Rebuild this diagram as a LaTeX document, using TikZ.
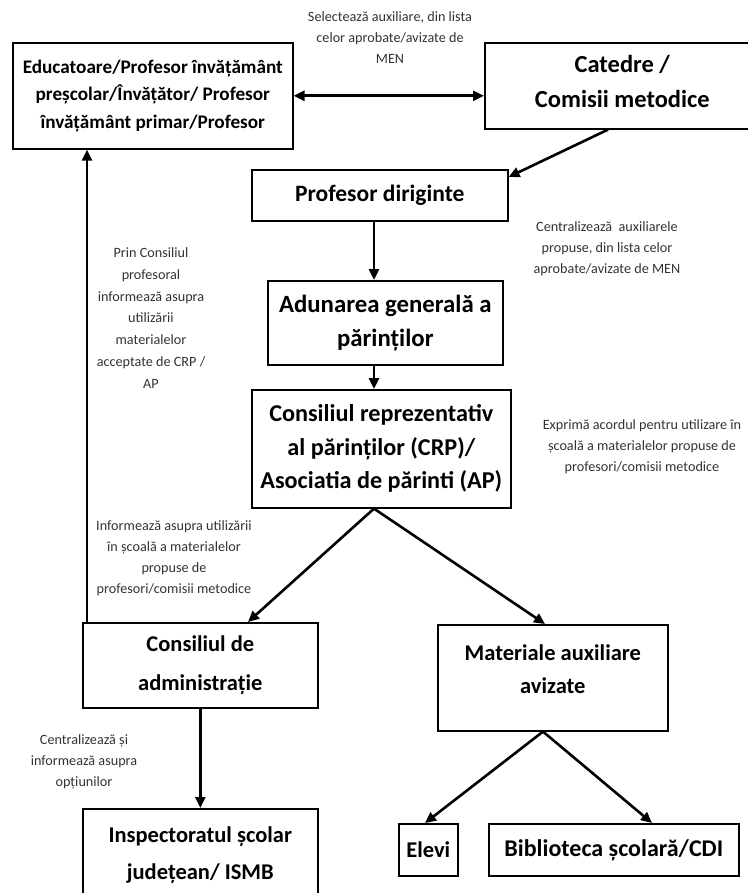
\documentclass[tikz,border=0pt]{standalone}
\usepackage{fontspec}
\setmainfont{Carlito}
\usetikzlibrary{arrows.meta,calc}
\begin{document}
\begin{tikzpicture}[x=1pt,y=-1pt,
  box/.style={draw, line width=1.6pt, fill=white, align=center, inner sep=0pt, anchor=north west},
  arr/.style={line width=2.6pt, -{Triangle[length=11pt,width=10pt]}},
  darr/.style={line width=2.6pt, {Triangle[length=11pt,width=10pt]}-{Triangle[length=11pt,width=10pt]}},
  lbl/.style={align=center, font=\fontsize{14.2}{21}\selectfont, text=black!80}]
\useasboundingbox (0,0) rectangle (747,893);

\node[box, minimum width=280pt, minimum height=106pt, font=\bfseries\fontsize{19.2}{27.5}\selectfont] (edu) at (12,42)
  {Educatoare/Profesor învățământ\\preșcolar/Învățător/ Profesor\\învățământ primar/Profesor};
\node[box, minimum width=275pt, minimum height=86pt, font=\bfseries\fontsize{24.5}{35}\selectfont] (cat) at (484,42)
  {\mbox{}\\[-26pt]Catedre /\\Comisii metodice};
\node[box, minimum width=256pt, minimum height=51pt, font=\bfseries\fontsize{23.5}{30}\selectfont] (prof) at (251,169)
  {Profesor diriginte};
\node[box, minimum width=235pt, minimum height=84pt, font=\bfseries\fontsize{24.8}{34}\selectfont] (adun) at (267,280)
  {Adunarea generală a\\părinților};
\node[box, minimum width=259pt, minimum height=118pt, font=\bfseries\fontsize{24.2}{33.5}\selectfont] (crp) at (251,389)
  {Consiliul reprezentativ\\al părinților (CRP)/\\Asociatia de părinti (AP)};
\node[box, minimum width=235pt, minimum height=85pt, font=\bfseries\fontsize{22.5}{39}\selectfont] (cadm) at (82,622)
  {Consiliul de\\administrație};
\node[box, minimum width=230pt, minimum height=106pt, font=\bfseries\fontsize{22.5}{33}\selectfont] (mat) at (437,624)
  {Materiale auxiliare\\avizate\\[-15pt]\mbox{}};
\node[box, minimum width=235pt, minimum height=92pt, font=\bfseries\fontsize{22.5}{37}\selectfont] (insp) at (82,808)
  {Inspectoratul școlar\\județean/ ISMB};
\node[box, minimum width=59pt, minimum height=52pt, font=\bfseries\fontsize{22.5}{30}\selectfont] (elevi) at (398,823)
  {Elevi};
\node[box, minimum width=250pt, minimum height=52pt, font=\bfseries\fontsize{24}{30}\selectfont] (bibl) at (488,823)
  {Biblioteca școlară/CDI};

% labels
\node[lbl] (l1) at (390,38) {Selectează auxiliare, din lista\\celor aprobate/avizate de\\MEN};
\node[lbl] (l2) at (607,249) {Centralizează\ \ auxiliarele\\propuse, din lista celor\\aprobate/avizate de MEN};
\node[lbl, font=\fontsize{14.2}{21.7}\selectfont] (l3) at (151,318) {Prin Consiliul\\profesoral\\informează asupra\\utilizării\\materialelor\\acceptate de CRP /\\AP};
\node[lbl] (l4) at (642,447) {Exprimă acordul pentru utilizare în\\școală a materialelor propuse de\\profesori/comisii metodice};
\node[lbl] (l5) at (174,558) {Informează asupra utilizării\\în școală a materialelor\\propuse de\\profesori/comisii metodice};
\node[lbl] (l6) at (84,762) {Centralizează și\\informează asupra\\opțiunilor};

% connectors
\draw[darr] (edu.east) -- (edu.east -| cat.west);
\coordinate (catout) at ($(cat.south west)+(124,0)$);
\coordinate (profin) at ($(prof.north east)+(0,8)$);
\draw[arr] (catout) -- (profin);
\coordinate (profout) at ($(prof.south west)+(123,0)$);
\draw[arr] (profout) -- (profout |- adun.north);
\coordinate (adunout) at ($(adun.south west)+(107,0)$);
\draw[arr] (adunout) -- (adunout |- crp.north);
\coordinate (crpout) at ($(crp.south west)+(123,0)$);
\draw[arr] (crpout) -- ($(cadm.north west)+(166,0)$);
\draw[arr] (crpout) -- ($(mat.north west)+(108,0)$);
\coordinate (cadmup) at ($(cadm.north west)+(5,0)$);
\draw[arr] (cadmup) -- (cadmup |- edu.south);
\draw[arr] (cadm.south) -- (cadm.south |- insp.north);
\coordinate (matout) at ($(mat.south west)+(106,0)$);
\draw[arr] (matout) -- ($(elevi.north west)+(27,0)$);
\draw[arr] (matout) -- ($(bibl.north west)+(164,0)$);
\end{tikzpicture}
\end{document}
